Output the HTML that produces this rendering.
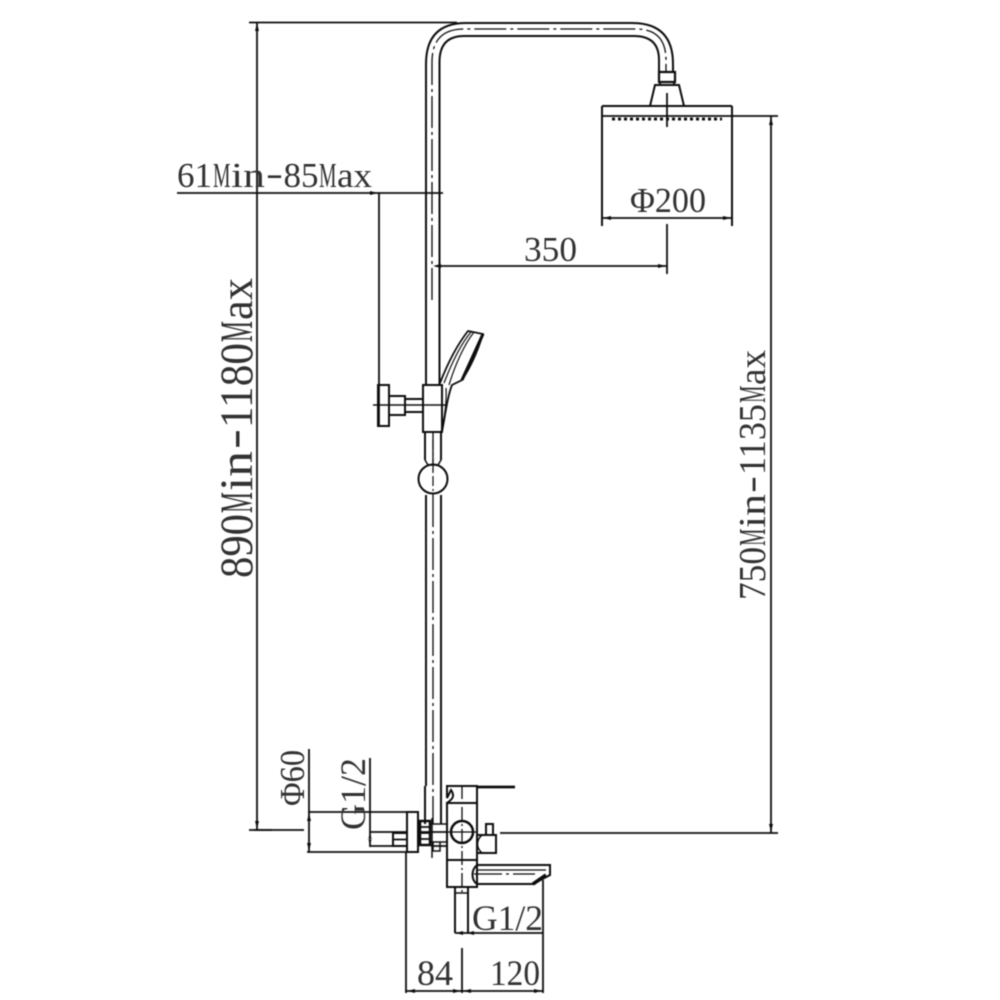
<!DOCTYPE html>
<html><head><meta charset="utf-8"><style>
html,body{margin:0;padding:0;background:#fff;width:1000px;height:1000px;overflow:hidden}
svg{display:block}
text{font-family:"Liberation Serif","DejaVu Serif",serif;fill:#333}
</style></head><body>
<svg width="1000" height="1000" viewBox="0 0 1000 1000" xmlns="http://www.w3.org/2000/svg">
<defs><filter id="b" x="-5%" y="-5%" width="110%" height="110%"><feGaussianBlur stdDeviation="0.45"/></filter></defs>
<rect width="1000" height="1000" fill="#fff"/>
<g filter="url(#b)">
<g fill="none" stroke="#111" stroke-width="1.800">
<!-- dimension lines -->
<path d="M249 22.500H457M257 22V830M249 830H272M177 193H443M379 193V425"/>
<path d="M436 266H667M667 224V274M602 218H732M602 116H778M771 116V833M500 833H778"/>
<path d="M309 749V852M308 812H418M307 852H418M370 758V847M370 832H407M370 846H407M254 830H304"/>
<path d="M406 852V993M462 948V993M406 991H543M543 880V993M455 933H543"/>
<!-- pipe outer -->
<path d="M426 385V64Q426 23 466 23H632Q673 23 673 64V72" stroke-width="2"/>
<path d="M439.500 385V62Q439.500 36 464 36H634Q659 36 659 60V72" stroke-width="2"/>
<path d="M426 495V786M441 495V786" stroke-width="2"/>
<path d="M425 786V824M441 786V824" stroke-width="2"/>
<!-- centre line -->
<path d="M432 300V62Q432 29 464 29H636Q666 29 666 60V72" stroke-width="1.300" stroke-dasharray="32 4 3 4"/>
<path d="M433 432V475M433 495V824" stroke-width="1.300" stroke-dasharray="32 4 3 4"/>
<!-- shower head -->
<rect x="659" y="72" width="16" height="10" stroke-width="2.200"/>
<path d="M660 82V85M674 82V85"/>
<path d="M650 106L655 85H679L684 106" stroke-width="2"/>
<path d="M602 106H732M602 106V226M732 106V226" stroke-width="2"/>
<path d="M667 93V127"/>
<path d="M612 119H722" stroke-width="3" stroke-dasharray="3 3"/>
<!-- hand shower -->
<path d="M440 383C447 365 457 345 468 331L483 334C478 350 472 365 462 380L452 385C448 395 446 410 442 432" stroke-width="1.800"/>
<path d="M444 383C451 365 460 345 471 332M449 385C455 365 464 345 474 332" stroke-width="1.200"/>
<path d="M483 334L462 380" stroke-width="3"/>
<path d="M446 388C447 405 444 420 441 432" stroke-width="1.200"/>
<rect x="423" y="385" width="19" height="47" stroke-width="2"/>
<rect x="378" y="385" width="11" height="41" stroke-width="2"/>
<rect x="389" y="396" width="16" height="19" stroke-width="2"/>
<rect x="405" y="399" width="18" height="13" stroke-width="2"/>
<path d="M373 405H445" stroke-width="1.500"/>
<path d="M425 432V460M441 432V460" stroke-width="2"/>
<path d="M425 460L428 465H438L441 460" stroke-width="1.500"/>
<circle cx="433" cy="479" r="14.500" stroke-width="2"/>
<path d="M433 440V495" stroke-width="1.200" stroke-dasharray="10 3 2 3"/>
<!-- mixer -->
<rect x="407" y="812" width="11" height="40" stroke-width="2"/>
<rect x="393" y="833" width="14" height="13" stroke-width="2"/>
<path d="M393 839.500H407M418 832H448M431 846H447"/>
<rect x="420" y="821" width="10" height="24" stroke-width="2.500"/>
<path d="M420 827H430M420 833H430M420 839H430"/>
<rect x="430" y="824" width="17" height="18" stroke-width="1.500"/>
<path d="M433 842V851H440V842M432 818V858" stroke-width="1.500"/>
<rect x="447" y="803" width="30" height="57" stroke-width="2"/>
<path d="M447 803C451 800 456 797 451 790L447 798V786H477V803" stroke-width="2"/>
<path d="M477 787H515" stroke-width="2.800"/>
<circle cx="462" cy="832" r="11" stroke-width="2.500"/>
<path d="M462 785V893" stroke-width="1.300" stroke-dasharray="14 3 2 3"/>
<path d="M448 832H476" stroke-width="1.200"/>
<rect x="486" y="824" width="7" height="11" stroke-width="2"/>
<path d="M482 835H496V853H477V835H482" stroke-width="2"/>
<path d="M482 835C476 840 476 848 482 853" stroke-width="1.500"/>
<rect x="447" y="860" width="30" height="27" stroke-width="2"/>
<path d="M477 865H550V875L533 884H477C471 880 471 870 477 865" stroke-width="2"/>
<path d="M477 870H546" stroke-width="1.200"/>
<path d="M474 874H535" stroke-width="1.300" stroke-dasharray="28 4 3 4"/>
<path d="M533 884L546 875" stroke-width="3.500"/>
<path d="M455 887V933M468 887V933" stroke-width="2"/>
<path d="M456 893H468" stroke-width="1.500"/>
</g>
<!-- arrowheads -->
<g fill="#111">
<path d="M257 23L255 31H259ZM257 829L255 821H259Z"/>
<path d="M771 117L769 125H773ZM771 832L769 824H773Z"/>
<path d="M603 218L611 216V220ZM731 218L723 216V220Z"/>
<path d="M666 266L658 264V268ZM433 266L441 264V268Z"/>
<path d="M378 193L370 191V195Z"/>
<path d="M309 813L307 821H311ZM309 851L307 843H311Z"/>
<path d="M370 833L368 840H372ZM370 845L368 838H372Z"/>
<path d="M407 991L415 989V993ZM461 991L453 989V993ZM463 991L471 989V993ZM542 991L534 989V993Z"/>
<path d="M456 933L463 931V935ZM467 933L474 931V935Z"/>
</g>
<!-- 890Min-1180Max -->
<g transform="translate(252 578) rotate(-90)" font-size="47">
<text x="0" textLength="64" lengthAdjust="spacingAndGlyphs">890</text>
<text x="65" textLength="21" lengthAdjust="spacingAndGlyphs">M</text>
<text x="87" textLength="40" lengthAdjust="spacingAndGlyphs">in</text>
<text x="129" textLength="20" lengthAdjust="spacingAndGlyphs" y="-3">-</text>
<text x="150" textLength="85" lengthAdjust="spacingAndGlyphs">1180</text>
<text x="236" textLength="21" lengthAdjust="spacingAndGlyphs">M</text>
<text x="258" textLength="42" lengthAdjust="spacingAndGlyphs">ax</text>
</g>
<!-- 750Min-1135Max -->
<g transform="translate(765 600) rotate(-90)" font-size="38">
<text x="0" textLength="53" lengthAdjust="spacingAndGlyphs">750</text>
<text x="54" textLength="17.500" lengthAdjust="spacingAndGlyphs">M</text>
<text x="72" textLength="34" lengthAdjust="spacingAndGlyphs">in</text>
<text x="107" textLength="17" lengthAdjust="spacingAndGlyphs" y="-2">-</text>
<text x="125" textLength="71" lengthAdjust="spacingAndGlyphs">1135</text>
<text x="197" textLength="17.500" lengthAdjust="spacingAndGlyphs">M</text>
<text x="215" textLength="35" lengthAdjust="spacingAndGlyphs">ax</text>
</g>
<!-- 61Min-85Max -->
<g transform="translate(177 187)" font-size="35">
<text x="0" textLength="35" lengthAdjust="spacingAndGlyphs">61</text>
<text x="36" textLength="17.500" lengthAdjust="spacingAndGlyphs">M</text>
<text x="54" textLength="34" lengthAdjust="spacingAndGlyphs">in</text>
<text x="89" textLength="17" lengthAdjust="spacingAndGlyphs" y="-2">-</text>
<text x="106.500" textLength="35" lengthAdjust="spacingAndGlyphs">85</text>
<text x="142" textLength="17.500" lengthAdjust="spacingAndGlyphs">M</text>
<text x="160" textLength="35" lengthAdjust="spacingAndGlyphs">ax</text>
</g>
<text x="630" y="212" font-size="35" textLength="76" lengthAdjust="spacingAndGlyphs">Φ200</text>
<text x="524" y="261" font-size="35" textLength="53" lengthAdjust="spacingAndGlyphs">350</text>
<text transform="translate(304 806) rotate(-90)" font-size="35" textLength="56" lengthAdjust="spacingAndGlyphs">Φ60</text>
<text transform="translate(365 830) rotate(-90)" font-size="36" textLength="72" lengthAdjust="spacingAndGlyphs">G1/2</text>
<text x="472" y="930" font-size="36" textLength="71" lengthAdjust="spacingAndGlyphs">G1/2</text>
<text x="417" y="985" font-size="36" textLength="36" lengthAdjust="spacingAndGlyphs">84</text>
<text x="490" y="985" font-size="36" textLength="50" lengthAdjust="spacingAndGlyphs">120</text>
</g>
</svg>
</body></html>
